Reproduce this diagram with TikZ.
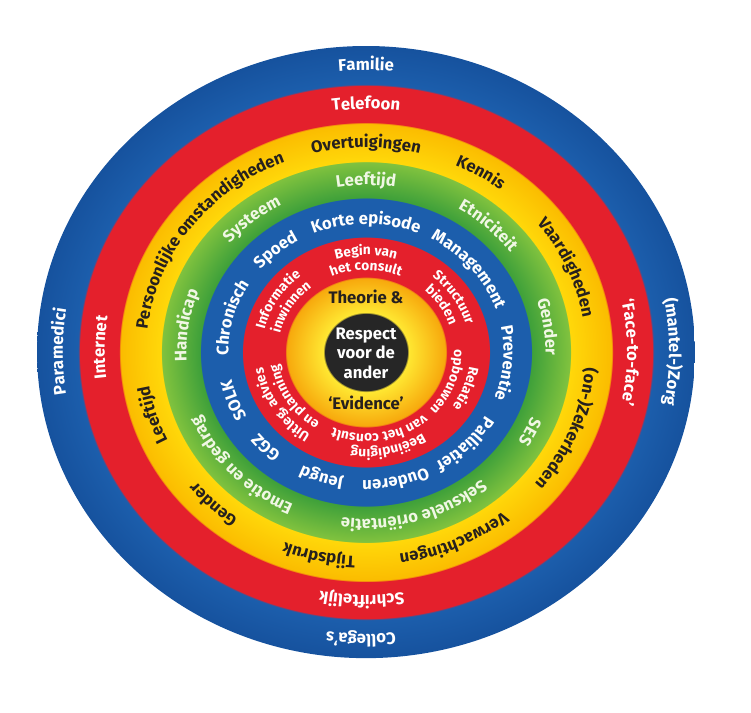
\documentclass[tikz,border=0pt]{standalone}
\usepackage{fontspec}
\setmainfont{Fira Sans}
\usetikzlibrary{decorations.text}

\definecolor{ringblue}{RGB}{28,94,172}
\definecolor{ringbluedark}{RGB}{22,82,158}
\definecolor{ringred}{RGB}{228,32,44}
\definecolor{ringyellow}{RGB}{255,216,10}
\definecolor{ringorange}{RGB}{251,188,0}
\definecolor{ringgreen}{RGB}{62,160,58}
\definecolor{ringlime}{RGB}{128,194,62}
\definecolor{corelight}{RGB}{255,232,50}
\definecolor{coreorange}{RGB}{247,168,12}
\definecolor{coreblack}{RGB}{38,38,38}
\definecolor{darkink}{RGB}{38,32,30}
\definecolor{paleink}{RGB}{240,247,228}

\newcommand{\ringfont}{\bfseries\fontsize{9.5}{11}\selectfont}
\newcommand{\innerfont}{\bfseries\fontsize{7.8}{9}\selectfont}

\pgfdeclareradialshading{rings}{\pgfpoint{0bp}{0bp}}{%
  color(0bp)=(coreblack); color(3.17bp)=(coreblack);
  color(3.21bp)=(corelight); color(6.07bp)=(coreorange);
  color(6.11bp)=(ringred); color(9.38bp)=(ringred);
  color(9.41bp)=(ringblue); color(12.57bp)=(ringblue);
  color(12.60bp)=(ringgreen); color(15.51bp)=(ringlime);
  color(15.54bp)=(ringyellow); color(18.69bp)=(ringorange);
  color(18.73bp)=(ringred); color(21.80bp)=(ringred);
  color(21.83bp)=(ringblue); color(25bp)=(ringbluedark);
  color(50bp)=(ringbluedark)}

\begin{document}
\begin{tikzpicture}[
    x=0.0215cm, y=0.02cm,
    labelarc/.style 2 args={
        decorate,
        insert path={({#1+75}:#2) arc[start angle=#1+75, end angle=#1-75, radius=#2]}
    },
    whitelabel/.style n args={3}{
        labelarc={#1}{#2},
        decoration={text along path, text align=center, text={|\ringfont\color{white}|#3}}
    },
    greenlabel/.style n args={3}{
        labelarc={#1}{#2},
        decoration={text along path, text align=center, text={|\ringfont\color{paleink}|#3}}
    },
    darklabel/.style n args={3}{
        labelarc={#1}{#2},
        decoration={text along path, text align=center, text={|\ringfont\color{darkink}|#3}}
    },
    innerlabel/.style n args={3}{
        labelarc={#1}{#2},
        decoration={text along path, text align=center, text={|\innerfont\color{white}|#3}}
    },
    corelabel/.style={
        anchor=base,
        inner sep=0pt,
        text=darkink,
        font=\bfseries\fontsize{9.5}{11}\selectfont
    },
    respectlabel/.style={
        align=center,
        inner sep=0pt,
        text=white,
        font=\bfseries\fontsize{9.5}{11.1}\selectfont
    }
]
\useasboundingbox (-340.47,-360) rectangle (358.14,352);

% all rings in one shading
\shade[shading=rings] (0,0) circle[radius=306];

% outer blue ring
\path[whitelabel={90}{282}{Familie}];
\path[whitelabel={0}{282}{(mantel-)Zorg}];
\path[whitelabel={-91}{282}{Collega’s}];
\path[whitelabel={180}{282}{Paramedici}];

% red ring
\path[whitelabel={90}{243}{Telefoon}];
\path[whitelabel={0}{243}{‘Face-to-face’}];
\path[whitelabel={-91}{243}{Schriftelijk}];
\path[whitelabel={179}{243}{Internet}];

% yellow ring
\path[darklabel={90}{204.5}{Overtuigingen}];
\path[darklabel={57.5}{204.5}{Kennis}];
\path[darklabel={23}{204.5}{Vaardigheden}];
\path[darklabel={-21}{204.5}{(on-)Zekerheden}];
\path[darklabel={-65}{204.5}{Verwachtingen}];
\path[darklabel={-103}{204.5}{Tijdsdruk}];
\path[darklabel={-135}{204.5}{Gender}];
\path[darklabel={-163.5}{204.5}{Leeftijd}];
\path[darklabel={144}{204.5}{Persoonlijke omstandigheden}];

% green ring
\path[greenlabel={90}{167}{Leeftijd}];
\path[greenlabel={46}{167}{Etniciteit}];
\path[greenlabel={8}{167}{Gender}];
\path[greenlabel={-26}{167}{SES}];
\path[greenlabel={-73}{167}{Seksuele oriëntatie}];
\path[greenlabel={-137.5}{167}{Emotie en gedrag}];
\path[greenlabel={171.5}{167}{Handicap}];
\path[greenlabel={130.5}{167}{Systeem}];

% inner blue ring
\path[whitelabel={90}{128}{Korte episode}];
\path[whitelabel={39}{128}{Management}];
\path[whitelabel={-4.5}{128}{Preventie}];
\path[whitelabel={-43}{128}{Palliatief}];
\path[whitelabel={-77}{128}{Ouderen}];
\path[whitelabel={-109.5}{128}{Jeugd}];
\path[whitelabel={-136.5}{128}{GGZ}];
\path[whitelabel={-160}{128}{SOLK}];
\path[whitelabel={165.5}{128}{Chronisch}];
\path[whitelabel={131.5}{128}{Spoed}];

% inner red ring, two lines each
\path[innerlabel={90}{97}{Begin van}];
\path[innerlabel={90}{82}{het consult}];
\path[innerlabel={32}{97}{Structuur}];
\path[innerlabel={32}{82}{bieden}];
\path[innerlabel={-20}{97}{Relatie}];
\path[innerlabel={-20}{82}{opbouwen}];
\path[innerlabel={-77}{97}{Beëindiging}];
\path[innerlabel={-80}{82}{van het consult}];
\path[innerlabel={-148}{97}{Uitleg, advies}];
\path[innerlabel={-148}{82}{en planning}];
\path[innerlabel={149}{97}{Informatie}];
\path[innerlabel={149}{82}{inwinnen}];

% centre
\node[corelabel] (theory) at (0,49) {Theorie \&};
\node[corelabel] (evidence) at (0,-57) {‘Evidence’};
\node[respectlabel] (respect) at (0,-1) {Respect\\voor de\\ander};
\end{tikzpicture}
\end{document}
